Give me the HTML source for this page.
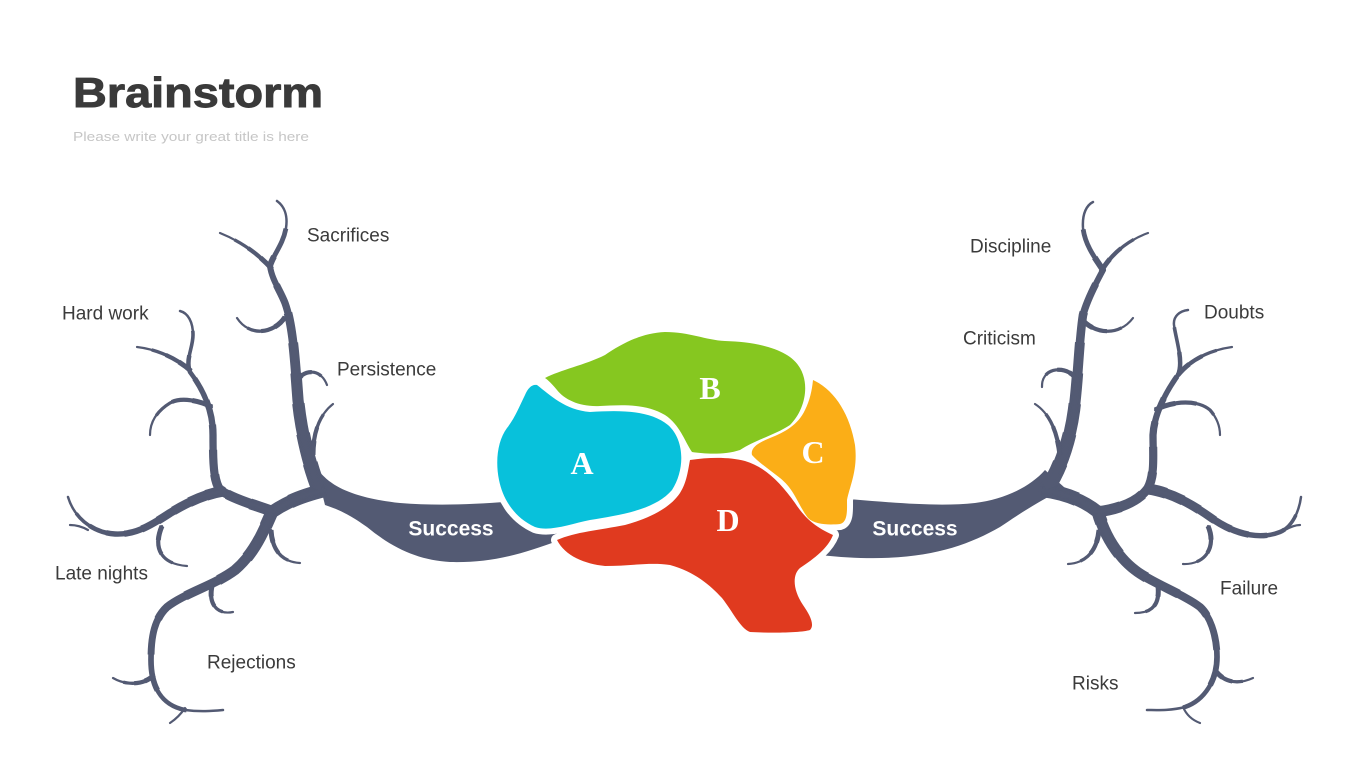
<!DOCTYPE html>
<html>
<head>
<meta charset="utf-8">
<style>
html,body{margin:0;padding:0;background:#fff;}
svg{display:block;}
</style>
</head>
<body>
<svg width="1365" height="768" viewBox="0 0 1365 768" xmlns="http://www.w3.org/2000/svg">
<defs>
  <!-- LEFT limbs -->
  <path id="lt" pathLength="100" d="M320,492 C309,465 301,430 298,400 C295,360 293,325 285,303 C280,290 272,280 270,266 C273,255 283,245 286,228 C288,215 284,206 277,201"/>
  <path id="ld" pathLength="100" d="M325,490 C305,495 290,500 272,512 C264,530 255,553 235,570 C215,585 185,593 167,607 C153,620 151,640 151,660 C151,685 160,705 185,710 C200,712 212,711 223,710"/>
  <path id="lh" pathLength="100" d="M274,512 C255,505 235,500 220,490 C213,480 213,460 213,435 C213,412 205,392 190,372 C185,360 193,348 193,335 C193,322 188,313 180,311"/>
  <path id="ll" pathLength="100" d="M224,491 C205,494 188,502 170,513 C150,526 135,535 115,534 C95,533 75,520 68,497"/>
  <path id="lt1" pathLength="100" d="M272,269 C262,258 245,243 220,233"/>
  <path id="lc1" pathLength="100" d="M285,317 C275,333 250,338 237,318"/>
  <path id="lc2" pathLength="100" d="M296,384 C300,370 320,366 327,385"/>
  <path id="lc3" pathLength="100" d="M313,455 C313,432 320,414 333,404"/>
  <path id="lh1" pathLength="100" d="M191,371 C175,357 155,349 137,347"/>
  <path id="lh2" pathLength="100" d="M212,407 C198,400 180,397 170,403 C157,411 150,422 150,435"/>
  <path id="ll1" pathLength="100" d="M88,530 C81,526 75,525 70,525"/>
  <path id="ll2" pathLength="100" d="M162,526 C153,547 160,564 187,566"/>
  <path id="ld1" pathLength="100" d="M154,675 C143,686 125,685 113,678"/>
  <path id="ld2" pathLength="100" d="M185,708 C181,714 176,719 170,723"/>
  <path id="ld3" pathLength="100" d="M212,586 C208,605 218,615 233,612"/>
  <path id="ld4" pathLength="100" d="M271,530 C272,550 282,562 300,563"/>

  <!-- RIGHT limbs -->
  <path id="rt" pathLength="100" d="M1046,490 C1060,470 1070,440 1074,410 C1078,380 1079,340 1083,315 C1087,300 1095,285 1103,270 C1095,258 1085,245 1083,228 C1082,213 1087,205 1093,202"/>
  <path id="rd" pathLength="100" d="M1042,490 C1065,493 1083,500 1098,512 C1103,530 1115,555 1135,570 C1150,582 1185,595 1200,607 C1212,618 1217,640 1217,657 C1217,680 1205,700 1185,707 C1170,711 1155,710 1147,710"/>
  <path id="rh" pathLength="100" d="M1096,512 C1115,510 1138,503 1148,488 C1155,475 1153,455 1153,435 C1154,415 1165,393 1178,375 C1184,362 1176,340 1174,325 C1173,316 1180,311 1188,310"/>
  <path id="rr" pathLength="100" d="M1148,489 C1170,492 1190,503 1210,517 C1235,535 1260,540 1280,532 C1292,527 1299,512 1301,497"/>
  <path id="rt1" pathLength="100" d="M1101,272 C1110,255 1128,240 1148,233"/>
  <path id="rc1" pathLength="100" d="M1081,318 C1092,333 1118,338 1133,318"/>
  <path id="rc2" pathLength="100" d="M1078,382 C1072,368 1052,366 1045,376 C1042,380 1042,384 1042,387"/>
  <path id="rc3" pathLength="100" d="M1060,455 C1057,430 1049,413 1035,404"/>
  <path id="rh1" pathLength="100" d="M1178,375 C1190,360 1210,350 1232,347"/>
  <path id="rh2" pathLength="100" d="M1155,410 C1175,400 1198,400 1210,410 C1217,418 1220,427 1220,435"/>
  <path id="rr1" pathLength="100" d="M1285,530 C1292,526 1296,525 1300,525"/>
  <path id="rr2" pathLength="100" d="M1208,526 C1217,547 1205,565 1183,564"/>
  <path id="rd1" pathLength="100" d="M1215,670 C1225,684 1240,684 1253,678"/>
  <path id="rd2" pathLength="100" d="M1183,707 C1186,714 1192,720 1200,723"/>
  <path id="rd3" pathLength="100" d="M1158,586 C1160,605 1152,613 1135,613"/>
  <path id="rd4" pathLength="100" d="M1099,530 C1097,552 1085,563 1068,564"/>
</defs>

<rect width="1365" height="768" fill="#ffffff"/>

<!-- Title -->
<text x="73" y="107" font-family="Liberation Sans, sans-serif" font-weight="bold" font-size="42" fill="#3a3a3a" stroke="#3a3a3a" stroke-width="0.9" textLength="250" lengthAdjust="spacingAndGlyphs">Brainstorm</text>
<text x="73" y="141" font-family="Liberation Sans, sans-serif" font-size="13" fill="#c6c6c6" textLength="236" lengthAdjust="spacingAndGlyphs">Please write your great title is here</text>

<!-- Bands -->
<path d="M315,465 C325,482 345,497 400,503 C450,507 500,503 560,497 L560,540 C520,555 490,563 450,562 C420,560 395,550 367,527 C350,515 340,510 325,505 Z" fill="#535a73"/>
<path d="M820,497 C870,500 930,508 975,503 C1005,499 1030,487 1045,470 L1065,488 C1045,498 1025,510 1000,527 C960,550 910,565 820,555 Z" fill="#535a73"/>

<!-- junction fillers -->
<g fill="#535a73">
  <circle cx="320" cy="490" r="8"/>
  <circle cx="272" cy="512" r="6.5"/>
  <circle cx="222" cy="491" r="5"/>
  <circle cx="1046" cy="489" r="8"/>
  <circle cx="1098" cy="512" r="6.5"/>
  <circle cx="1149" cy="489" r="5"/>
</g>

<!-- Tapered main limbs -->
<g fill="none" stroke="#535a73" stroke-linecap="butt" stroke-linejoin="round">
  <g stroke-dasharray="10 300">
    <g stroke-width="15"><use href="#lt"/><use href="#rt"/></g>
    <g stroke-width="14"><use href="#ld"/><use href="#rd"/></g>
    <g stroke-width="11"><use href="#lh"/><use href="#ll"/><use href="#rh"/><use href="#rr"/></g>
  </g>
  <g stroke-dasharray="20 300">
    <g stroke-width="13.7"><use href="#lt"/><use href="#rt"/></g>
    <g stroke-width="12.8"><use href="#ld"/><use href="#rd"/></g>
    <g stroke-width="10.1"><use href="#lh"/><use href="#ll"/><use href="#rh"/><use href="#rr"/></g>
  </g>
  <g stroke-dasharray="30 300">
    <g stroke-width="12.4"><use href="#lt"/><use href="#rt"/></g>
    <g stroke-width="11.6"><use href="#ld"/><use href="#rd"/></g>
    <g stroke-width="9.1"><use href="#lh"/><use href="#ll"/><use href="#rh"/><use href="#rr"/></g>
  </g>
  <g stroke-dasharray="40 300">
    <g stroke-width="11.2"><use href="#lt"/><use href="#rt"/></g>
    <g stroke-width="10.4"><use href="#ld"/><use href="#rd"/></g>
    <g stroke-width="8.2"><use href="#lh"/><use href="#ll"/><use href="#rh"/><use href="#rr"/></g>
  </g>
  <g stroke-dasharray="50 300">
    <g stroke-width="9.9"><use href="#lt"/><use href="#rt"/></g>
    <g stroke-width="9.2"><use href="#ld"/><use href="#rd"/></g>
    <g stroke-width="7.3"><use href="#lh"/><use href="#ll"/><use href="#rh"/><use href="#rr"/></g>
  </g>
  <g stroke-dasharray="60 300">
    <g stroke-width="8.6"><use href="#lt"/><use href="#rt"/></g>
    <g stroke-width="8"><use href="#ld"/><use href="#rd"/></g>
    <g stroke-width="6.3"><use href="#lh"/><use href="#ll"/><use href="#rh"/><use href="#rr"/></g>
  </g>
  <g stroke-dasharray="70 300">
    <g stroke-width="7.3"><use href="#lt"/><use href="#rt"/></g>
    <g stroke-width="6.9"><use href="#ld"/><use href="#rd"/></g>
    <g stroke-width="5.4"><use href="#lh"/><use href="#ll"/><use href="#rh"/><use href="#rr"/></g>
  </g>
  <g stroke-dasharray="80 300">
    <g stroke-width="6.1"><use href="#lt"/><use href="#rt"/></g>
    <g stroke-width="5.7"><use href="#ld"/><use href="#rd"/></g>
    <g stroke-width="4.5"><use href="#lh"/><use href="#ll"/><use href="#rh"/><use href="#rr"/></g>
  </g>
  <g stroke-dasharray="90 300">
    <g stroke-width="4.8"><use href="#lt"/><use href="#rt"/></g>
    <g stroke-width="4.5"><use href="#ld"/><use href="#rd"/></g>
    <g stroke-width="3.6"><use href="#lh"/><use href="#ll"/><use href="#rh"/><use href="#rr"/></g>
  </g>
</g>
<g fill="none" stroke="#535a73" stroke-linecap="round" stroke-linejoin="round" stroke-width="2.5">
  <use href="#lt"/><use href="#ld"/><use href="#lh"/><use href="#ll"/>
  <use href="#rt"/><use href="#rd"/><use href="#rh"/><use href="#rr"/>
</g>

<!-- Twigs and curls (tapered) -->
<g fill="none" stroke="#535a73" stroke-linecap="butt" stroke-linejoin="round">
  <g stroke-width="5" stroke-dasharray="25 300">
    <use href="#lt1"/><use href="#lc1"/><use href="#lc2"/><use href="#lc3"/><use href="#lh1"/><use href="#lh2"/><use href="#ll2"/><use href="#ld1"/><use href="#ld3"/><use href="#ld4"/>
    <use href="#rt1"/><use href="#rc1"/><use href="#rc2"/><use href="#rc3"/><use href="#rh1"/><use href="#rh2"/><use href="#rr2"/><use href="#rd1"/><use href="#rd3"/><use href="#rd4"/>
  </g>
  <g stroke-width="4.2" stroke-dasharray="50 300">
    <use href="#lt1"/><use href="#lc1"/><use href="#lc2"/><use href="#lc3"/><use href="#lh1"/><use href="#lh2"/><use href="#ll2"/><use href="#ld1"/><use href="#ld3"/><use href="#ld4"/>
    <use href="#rt1"/><use href="#rc1"/><use href="#rc2"/><use href="#rc3"/><use href="#rh1"/><use href="#rh2"/><use href="#rr2"/><use href="#rd1"/><use href="#rd3"/><use href="#rd4"/>
  </g>
  <g stroke-width="3.3" stroke-dasharray="75 300">
    <use href="#lt1"/><use href="#lc1"/><use href="#lc2"/><use href="#lc3"/><use href="#lh1"/><use href="#lh2"/><use href="#ll2"/><use href="#ld1"/><use href="#ld3"/><use href="#ld4"/>
    <use href="#rt1"/><use href="#rc1"/><use href="#rc2"/><use href="#rc3"/><use href="#rh1"/><use href="#rh2"/><use href="#rr2"/><use href="#rd1"/><use href="#rd3"/><use href="#rd4"/>
  </g>
</g>
<g fill="none" stroke="#535a73" stroke-linecap="round" stroke-linejoin="round" stroke-width="2.2">
  <use href="#lt1"/><use href="#lc1"/><use href="#lc2"/><use href="#lc3"/><use href="#lh1"/><use href="#lh2"/><use href="#ll2"/><use href="#ld1"/><use href="#ld3"/><use href="#ld4"/>
  <use href="#rt1"/><use href="#rc1"/><use href="#rc2"/><use href="#rc3"/><use href="#rh1"/><use href="#rh2"/><use href="#rr2"/><use href="#rd1"/><use href="#rd3"/><use href="#rd4"/>
  <use href="#ll1"/><use href="#ld2"/><use href="#rr1"/><use href="#rd2"/>
</g>

<!-- Brain white underlay -->
<g fill="#ffffff" stroke="#ffffff" stroke-width="12" stroke-linejoin="round">
  <path d="M537,385 C550,395 565,410 590,412 C620,410 650,410 668,425 C685,440 685,470 672,490 C655,510 620,515 590,520 C570,524 550,532 535,527 C515,518 503,500 499,480 C495,460 498,440 507,428 C515,418 520,405 525,395 C528,388 532,384 537,385 Z"/>
  <path d="M545,378 C560,370 585,365 605,355 C620,345 640,333 665,332 C690,332 705,340 725,341 C760,342 790,350 800,368 C810,385 805,410 790,425 C775,435 755,440 740,450 C725,455 705,454 692,452 C684,440 680,425 665,415 C645,403 620,405 600,406 C580,407 565,400 557,390 C552,384 548,380 545,378 Z"/>
  <path d="M813,380 C835,390 850,415 855,445 C858,470 850,485 847,500 C847,510 848,522 840,524 C830,525 815,525 808,518 C798,505 795,490 780,478 C770,470 758,462 752,455 C750,447 760,442 770,438 C785,432 798,425 805,410 C810,400 812,390 813,380 Z"/>
  <path d="M690,460 C710,457 730,457 745,461 C765,467 780,482 795,503 C805,518 815,527 833,535 C828,548 815,558 800,568 C792,575 793,590 803,605 C810,615 815,625 810,630 C800,633 770,633 750,632 C740,628 733,612 722,598 C710,585 695,572 670,565 C650,562 630,566 605,566 C585,564 565,556 557,540 C575,532 600,530 625,525 C650,518 670,508 680,493 C687,482 688,470 690,460 Z"/>
</g>

<!-- Brain colored lobes -->
<path d="M537,385 C550,395 565,410 590,412 C620,410 650,410 668,425 C685,440 685,470 672,490 C655,510 620,515 590,520 C570,524 550,532 535,527 C515,518 503,500 499,480 C495,460 498,440 507,428 C515,418 520,405 525,395 C528,388 532,384 537,385 Z" fill="#08c1db"/>
<path d="M545,378 C560,370 585,365 605,355 C620,345 640,333 665,332 C690,332 705,340 725,341 C760,342 790,350 800,368 C810,385 805,410 790,425 C775,435 755,440 740,450 C725,455 705,454 692,452 C684,440 680,425 665,415 C645,403 620,405 600,406 C580,407 565,400 557,390 C552,384 548,380 545,378 Z" fill="#86c720"/>
<path d="M813,380 C835,390 850,415 855,445 C858,470 850,485 847,500 C847,510 848,522 840,524 C830,525 815,525 808,518 C798,505 795,490 780,478 C770,470 758,462 752,455 C750,447 760,442 770,438 C785,432 798,425 805,410 C810,400 812,390 813,380 Z" fill="#fbae17"/>
<path d="M690,460 C710,457 730,457 745,461 C765,467 780,482 795,503 C805,518 815,527 833,535 C828,548 815,558 800,568 C792,575 793,590 803,605 C810,615 815,625 810,630 C800,633 770,633 750,632 C740,628 733,612 722,598 C710,585 695,572 670,565 C650,562 630,566 605,566 C585,564 565,556 557,540 C575,532 600,530 625,525 C650,518 670,508 680,493 C687,482 688,470 690,460 Z" fill="#e03a1f"/>

<!-- Lobe letters -->
<g font-family="Liberation Serif, serif" font-weight="bold" font-size="32" fill="#ffffff" text-anchor="middle">
  <text x="582" y="474">A</text>
  <text x="710" y="399">B</text>
  <text x="813" y="463">C</text>
  <text x="728" y="531">D</text>
</g>

<!-- Success labels -->
<g font-family="Liberation Sans, sans-serif" font-weight="bold" font-size="21" fill="#ffffff" text-anchor="middle">
  <text x="451" y="535.5">Success</text>
  <text x="915" y="535.5">Success</text>
</g>

<!-- Branch labels -->
<g font-family="Liberation Sans, sans-serif" font-size="19" fill="#3b3b3b">
  <text x="307" y="241.5">Sacrifices</text>
  <text x="62" y="319.5">Hard work</text>
  <text x="337" y="375.5">Persistence</text>
  <text x="55" y="579.5">Late nights</text>
  <text x="207" y="668.5">Rejections</text>
  <text x="970" y="252.5">Discipline</text>
  <text x="963" y="344.5">Criticism</text>
  <text x="1204" y="318.5">Doubts</text>
  <text x="1220" y="594.5">Failure</text>
  <text x="1072" y="689.5">Risks</text>
</g>
</svg>
</body>
</html>
